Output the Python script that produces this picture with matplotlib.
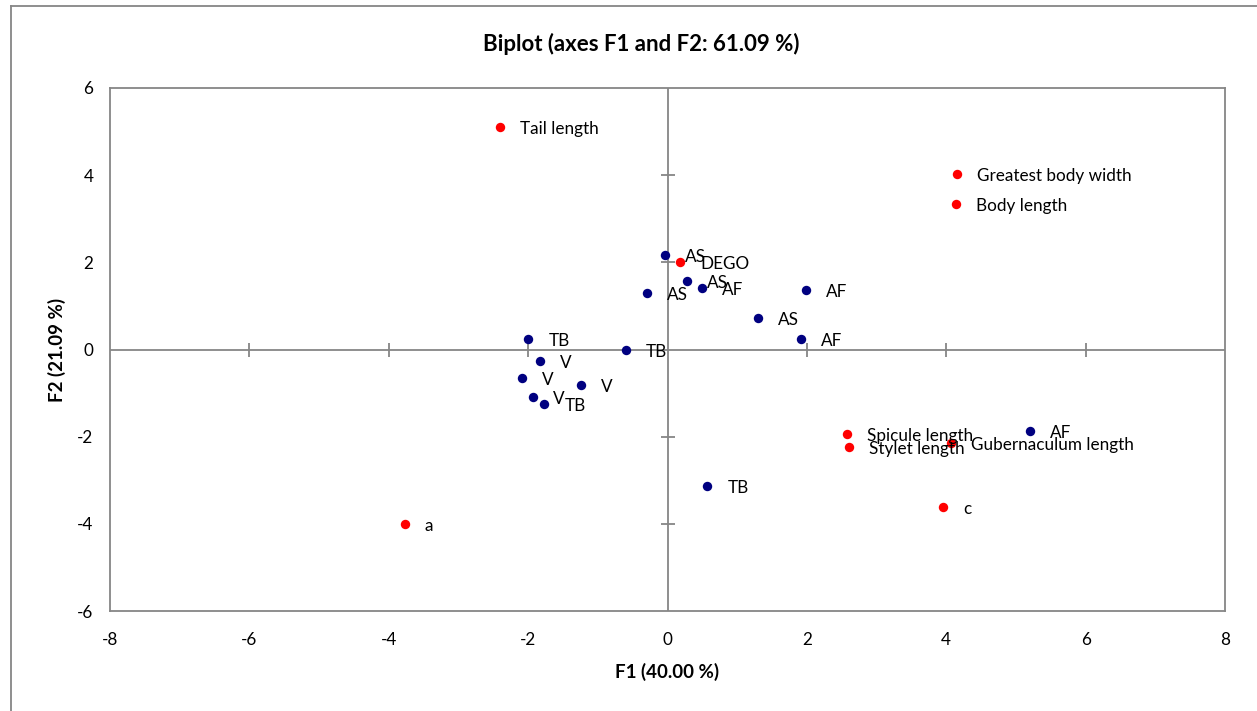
import matplotlib.pyplot as plt
from matplotlib.lines import Line2D

plt.rcParams['font.family'] = ['Lato', 'DejaVu Sans']
plt.rcParams['axes.unicode_minus'] = False

# observations (blue)
obs_labels = ["AS", "AS", "AF", "AS", "AF", "AS", "AF", "TB", "TB",
              "V", "V", "V", "V", "TB", "AF", "TB"]
obs_f1 = [-0.04, 0.28, 0.49, -0.29, 1.99, 1.30, 1.92, -2.00, -0.60,
          -1.83, -2.09, -1.24, -1.93, -1.77, 5.20, 0.57]
obs_f2 = [2.17, 1.57, 1.41, 1.30, 1.37, 0.72, 0.24, 0.24, 0.00,
          -0.26, -0.65, -0.81, -1.09, -1.25, -1.87, -3.13]

# variables (red)
var_labels = ["Tail length", "Greatest body width", "Body length", "DEGO",
              "Spicule length", "Stylet length", "Gubernaculum length", "c", "a"]
var_f1 = [-2.40, 4.15, 4.14, 0.18, 2.58, 2.60, 4.07, 3.95, -3.77]
var_f2 = [5.10, 4.02, 3.33, 2.01, -1.94, -2.24, -2.14, -3.61, -4.00]

xticks = [-8, -6, -4, -2, 0, 2, 4, 6, 8]
yticks = [-6, -4, -2, 0, 2, 4, 6]

grey = "#868686"

fig = plt.figure(figsize=(12.57, 7.11), dpi=100)
ax = fig.add_axes([110 / 1257, 1 - 611 / 711, 1115 / 1257, 523 / 711])

# outer chart frame
fig.add_artist(Line2D([11 / 1257, 11 / 1257], [0, 1 - 6 / 711], color=grey, lw=1.3))
fig.add_artist(Line2D([11 / 1257, 1], [1 - 6 / 711, 1 - 6 / 711], color=grey, lw=1.3))

ax.axhline(0, color=grey, lw=1.3, zorder=1)
ax.axvline(0, color=grey, lw=1.3, zorder=1)
inner_x = [t for t in xticks if t not in (0, -8, 8)]
inner_y = [t for t in yticks if t not in (0, -6, 6)]
ax.plot(inner_x, [0] * len(inner_x), ls="none", marker="|", ms=10, mew=1.3, color=grey, zorder=1)
ax.plot([0] * len(inner_y), inner_y, ls="none", marker="_", ms=10, mew=1.3, color=grey, zorder=1)

ax.scatter(obs_f1, obs_f2, s=46, color="#000080", zorder=3, linewidths=0)
ax.scatter(var_f1, var_f2, s=46, color="#FF0000", zorder=3, linewidths=0)

for x, y, t in zip(obs_f1, obs_f2, obs_labels):
    ax.annotate(t, (x, y), xytext=(14.5, -1.5), textcoords="offset points",
                ha="left", va="center", fontsize=12.3, color="black")
for x, y, t in zip(var_f1, var_f2, var_labels):
    ax.annotate(t, (x, y), xytext=(14.5, -1.5), textcoords="offset points",
                ha="left", va="center", fontsize=12.3, color="black")

ax.set_xlim(-8, 8)
ax.set_ylim(-6, 6)
ax.set_xticks(xticks)
ax.set_yticks(yticks)
ax.tick_params(length=0, labelsize=12.3, pad=12)
ax.tick_params(axis="x", pad=15)
for s in ax.spines.values():
    s.set_color(grey)
    s.set_linewidth(1.3)

ax.set_xlabel("F1 (40.00 %)", fontsize=13.5, fontweight="bold", labelpad=11)
ax.set_ylabel("F2 (21.09 %)", fontsize=13.5, fontweight="bold", labelpad=8)
fig.text(641 / 1257, 1 - 44 / 711, "Biplot (axes F1 and F2: 61.09 %)",
         ha="center", va="center", fontsize=16, fontweight="bold")

fig.savefig("out.png", dpi=100)
